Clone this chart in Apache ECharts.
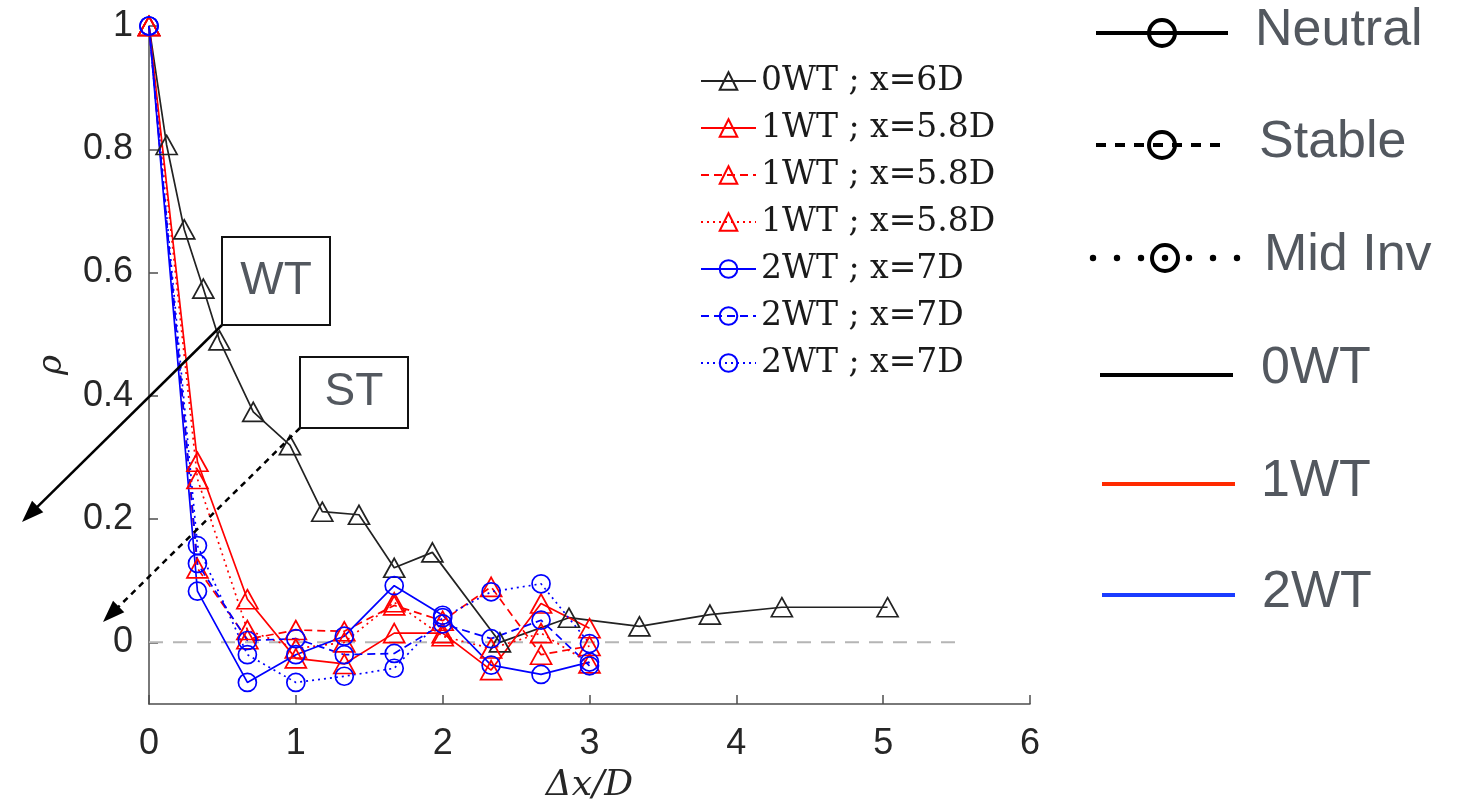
<!DOCTYPE html>
<html>
<head>
<meta charset="utf-8">
<script src="https://cdn.jsdelivr.net/npm/echarts@6/dist/echarts.min.js"></script>
<style>
  html, body { margin: 0; padding: 0; background: #fff; }
  #chart1 { width: 1463px; height: 809px; }
</style>
</head>
<body>
<div id="chart1"></div>
<script>
// data
var x0WT = [0, 0.12, 0.24, 0.37, 0.48, 0.71, 0.96, 1.18, 1.43, 1.67, 1.93, 2.39, 2.86, 3.34, 3.82, 4.31, 5.03];
var rho0WT = [1, 0.807, 0.67, 0.574, 0.49, 0.374, 0.32, 0.212, 0.207, 0.121, 0.146, 0.0, 0.04, 0.026, 0.045, 0.057, 0.057];

var xWT = [0, 0.33, 0.67, 1, 1.33, 1.67, 2, 2.33, 2.67, 3];
var rho1Neutral = [1, 0.293, 0.07, -0.026, -0.035, 0.015, 0.015, -0.045, 0.063, 0.023];
var rho1Stable = [1, 0.12, 0.005, 0.02, 0.018, 0.06, 0.035, 0.09, -0.02, -0.006];
var rho1MidInv = [1, 0.265, 0.02, -0.01, 0.0, 0.065, 0.01, -0.01, 0.015, -0.034];
var rho2Neutral = [1, 0.083, -0.065, -0.02, 0.01, 0.092, 0.044, -0.037, -0.052, -0.032];
var rho2Stable = [1, 0.128, 0.003, 0.006, -0.02, -0.018, 0.03, 0.006, 0.036, -0.038];
var rho2MidInv = [1, 0.157, -0.02, -0.065, -0.055, -0.042, 0.04, 0.082, 0.095, -0.002];

var zeroLineX = [0, 5.5];
var yTicks = [0, 0.2, 0.4, 0.6, 0.8, 1];

// legend names (trailing spaces keep duplicates apart)
var legendNames = ['0WT ; x=6D', '1WT ; x=5.8D', '1WT ; x=5.8D ', '1WT ; x=5.8D  ',
                   '2WT ; x=7D', '2WT ; x=7D ', '2WT ; x=7D  '];

function pairs(xs, ys) {
    return xs.map(function (x, i) { return [x, ys[i]]; });
}

function mkSeries(name, xs, ys, color, type, symbol) {
    return {
        type: 'line',
        name: name,
        data: pairs(xs, ys),
        symbol: symbol,
        symbolSize: symbol == 'triangle' ? [21, 19] : 18,
        showAllSymbol: true,
        lineStyle: { color: color, width: 1.7, type: type },
        itemStyle: { color: 'rgba(0,0,0,0)', borderColor: color, borderWidth: 1.7 },
        emphasis: { disabled: true },
        animation: false,
        z: 3
    };
}

var dashT = [8, 5];
var dotT = [2, 4];

// arrow = line + filled head
function arrow(x1, y1, x2, y2, dash) {
    var dx = x2 - x1, dy = y2 - y1;
    var len = Math.sqrt(dx * dx + dy * dy);
    var ux = dx / len, uy = dy / len;
    var bx = x2 - ux * 22, by = y2 - uy * 22;
    return [
        { type: 'line', shape: { x1: x1, y1: y1, x2: bx + ux * 4, y2: by + uy * 4 },
          style: { stroke: '#000', lineWidth: 2.5, lineDash: dash }, z: 10 },
        { type: 'polygon', shape: { points: [[x2, y2], [bx - uy * 8, by + ux * 8], [bx + uy * 8, by - ux * 8]] },
          style: { fill: '#000' }, z: 10 }
    ];
}

function labelBox(x, y, w, h, txt) {
    return [
        { type: 'rect', shape: { x: x, y: y, width: w, height: h },
          style: { fill: '#fff', stroke: '#111', lineWidth: 2 }, z: 11 },
        { type: 'text', x: x + w / 2, y: y + h / 2,
          style: { text: txt, fill: '#53585f', font: '46px "Liberation Sans"', align: 'center', verticalAlign: 'middle' }, z: 12 }
    ];
}

var rightText = '#53585f';
function rlabel(x, y, txt) {
    return { type: 'text', x: x, y: y,
             style: { text: txt, fill: rightText, font: '52px "Liberation Sans"', verticalAlign: 'middle' } };
}
function rline(x1, x2, y, color, dash) {
    return { type: 'line', shape: { x1: x1, y1: y, x2: x2, y2: y },
             style: { stroke: color, lineWidth: 4, lineDash: dash } };
}
function rcircle(cx, cy) {
    return { type: 'circle', shape: { cx: cx, cy: cy, r: 13 },
             style: { fill: 'rgba(0,0,0,0)', stroke: '#000', lineWidth: 4 } };
}

var graphics = [];
graphics = graphics.concat(labelBox(222, 237, 108, 88, 'WT'));
graphics = graphics.concat(labelBox(300, 357, 108, 71, 'ST'));
graphics = graphics.concat(arrow(222, 325, 22, 522, null));
graphics = graphics.concat(arrow(300, 428, 103, 622, [6, 5]));

// right-hand legend
graphics.push(rline(1096, 1228, 33, '#000', null));
graphics.push(rcircle(1162, 33));
graphics.push(rlabel(1255, 31, 'Neutral'));

graphics.push(rline(1096, 1228, 145, '#000', [10, 9]));
graphics.push(rcircle(1162, 145));
graphics.push(rlabel(1259, 143, 'Stable'));

[1093, 1117, 1141, 1165, 1189, 1213, 1237].forEach(function (dx) {
    graphics.push({ type: 'circle', shape: { cx: dx, cy: 258, r: 3.2 }, style: { fill: '#000' } });
});
graphics.push(rcircle(1165, 258));
graphics.push(rlabel(1264, 256, 'Mid Inv'));

graphics.push(rline(1100, 1233, 375, '#000', null));
graphics.push(rlabel(1261, 369, '0WT'));
graphics.push(rline(1102, 1235, 484, '#ff2a00', null));
graphics.push(rlabel(1261, 482, '1WT'));
graphics.push(rline(1102, 1235, 595, '#1a3cff', null));
graphics.push(rlabel(1262, 593, '2WT'));

var myChart1 = echarts.init(document.getElementById('chart1'));
myChart1.setOption({
    backgroundColor: '#fff',
    animation: false,
    grid: { left: 149, right: 433, top: 26, bottom: 103 },
    legend: {
        data: legendNames,
        orient: 'vertical',
        left: 695,
        top: 59,
        itemWidth: 55,
        itemHeight: 22,
        itemGap: 13,
        selectedMode: false,
        textStyle: { fontFamily: 'DejaVu Serif', fontSize: 33, color: '#1a1a1a', lineHeight: 34 }
    },
    xAxis: {
        type: 'value',
        min: 0,
        max: 6,
        interval: 1,
        name: 'Δx/D',
        nameLocation: 'middle',
        nameGap: 64,
        nameTextStyle: { fontFamily: 'DejaVu Serif', fontStyle: 'italic', fontSize: 36, color: '#262626' },
        axisLine: { onZero: false, lineStyle: { color: '#4d4d4d', width: 1.5 } },
        axisTick: { inside: true, length: 9, lineStyle: { color: '#4d4d4d', width: 1.5 } },
        axisLabel: { margin: 22, fontFamily: 'Liberation Sans', fontSize: 36, color: '#262626' },
        splitLine: { show: false }
    },
    yAxis: {
        type: 'value',
        min: -0.1,
        max: 1,
        name: 'ρ',
        nameLocation: 'middle',
        nameGap: 80,
        nameTextStyle: { fontFamily: 'DejaVu Serif', fontStyle: 'italic', fontSize: 34, color: '#262626' },
        axisLine: { show: true, onZero: false, lineStyle: { color: '#4d4d4d', width: 1.5 } },
        axisTick: { show: true, inside: true, length: 9, customValues: yTicks, lineStyle: { color: '#4d4d4d', width: 1.5 } },
        axisLabel: { margin: 16, customValues: yTicks, fontFamily: 'Liberation Sans', fontSize: 36, color: '#262626' },
        splitLine: { show: false }
    },
    graphic: graphics,
    series: [
        {
            type: 'line',
            name: 'zero',
            data: pairs(zeroLineX, [0, 0]),
            symbol: 'none',
            lineStyle: { color: '#b5b5b5', width: 2, type: [14, 10] },
            emphasis: { disabled: true },
            z: 1
        },
        mkSeries(legendNames[0], x0WT, rho0WT, '#222', 'solid', 'triangle'),
        mkSeries(legendNames[1], xWT, rho1Neutral, '#ff0000', 'solid', 'triangle'),
        mkSeries(legendNames[2], xWT, rho1Stable, '#ff0000', dashT, 'triangle'),
        mkSeries(legendNames[3], xWT, rho1MidInv, '#ff0000', dotT, 'triangle'),
        mkSeries(legendNames[4], xWT, rho2Neutral, '#0000ff', 'solid', 'circle'),
        mkSeries(legendNames[5], xWT, rho2Stable, '#0000ff', dashT, 'circle'),
        mkSeries(legendNames[6], xWT, rho2MidInv, '#0000ff', dotT, 'circle')
    ]
});

window.onresize = function () {
    myChart1.resize();
};
</script>
</body>
</html>
